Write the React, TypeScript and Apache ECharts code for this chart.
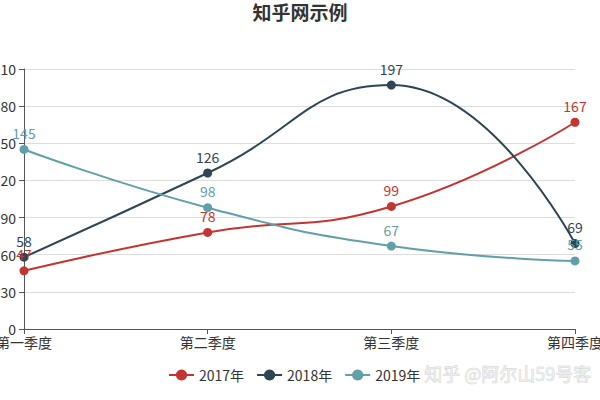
import React, { useEffect, useRef } from "react";
import * as echarts from "echarts";

const categories = ["第一季度", "第二季度", "第三季度", "第四季度"];
const seriesNames = ["2017年", "2018年", "2019年"];
const values2017 = [47, 78, 99, 167];
const values2018 = [58, 126, 197, 69];
const values2019 = [145, 98, 67, 55];
const colors = ["#c23531", "#2f4554", "#61a0a8"];

const FONT = "'Noto Sans CJK SC', 'Open Sans', sans-serif";

export default function App() {
  const ref = useRef<HTMLDivElement>(null);
  useEffect(() => {
    if (!ref.current) return;
    const chart = echarts.init(ref.current, undefined, { renderer: "svg" });
    const data = [values2017, values2018, values2019];
    chart.setOption({
      animation: false,
      color: colors,
      textStyle: { fontFamily: FONT },
      title: {
        text: "知乎网示例",
        left: "center",
        top: -3,
        textStyle: { fontSize: 19, fontWeight: "bold", color: "#333", fontFamily: FONT },
      },
      legend: {
        data: seriesNames,
        left: 163,
        top: 363,
        itemWidth: 25,
        itemHeight: 14,
        itemGap: 12,
        textStyle: { fontSize: 14, color: "#333", fontFamily: FONT },
      },
      grid: {
        left: 24,
        right: 25,
        top: 69,
        bottom: 71,
        containLabel: false,
        outerBoundsMode: "none",
      },
      xAxis: {
        type: "category",
        data: categories,
        boundaryGap: false,
        axisLine: { lineStyle: { color: "#555" } },
        axisTick: { show: true, alignWithLabel: true },
        axisLabel: { color: "#333", fontSize: 14, margin: 6, interval: 0, hideOverlap: false },
      },
      yAxis: {
        type: "value",
        min: 0,
        max: 210,
        interval: 30,
        axisLine: { show: true, lineStyle: { color: "#555" } },
        axisTick: { show: true, length: 5 },
        axisLabel: { color: "#333", fontSize: 14, margin: 8 },
        splitLine: { show: true, lineStyle: { color: "#ddd" } },
      },
      graphic: [
        {
          type: "text",
          left: 424,
          top: 364,
          z: 100,
          style: {
            text: "知乎 @阿尔山59号客",
            fontSize: 18,
            fontFamily: FONT,
            fill: "#ebebeb",
            stroke: "#c4c4c4",
            lineWidth: 0.5,
          },
        },
      ],
      series: seriesNames.map((name, i) => ({
        name,
        type: "line",
        smooth: true,
        data: data[i],
        symbol: "circle",
        symbolSize: 9,
        lineStyle: { width: 2 },
        label: {
          show: true,
          position: "top",
          fontSize: 14,
          color: colors[i],
          fontFamily: FONT,
        },
      })),
    });
    return () => chart.dispose();
  }, []);
  return <div ref={ref} style={{ width: 600, height: 400, position: "absolute", left: 0, top: 0 }} />;
}
